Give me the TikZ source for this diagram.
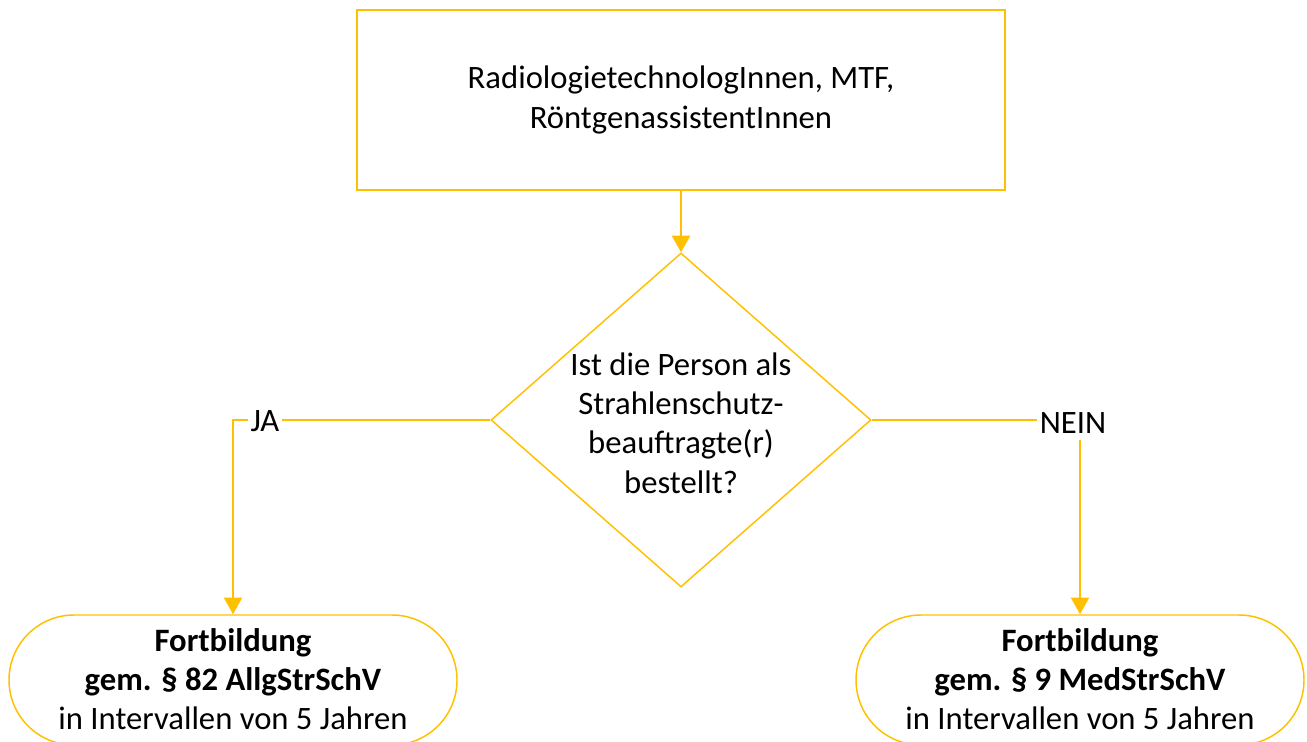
\documentclass[tikz,border=0pt]{standalone}
\usepackage{fontspec}
\setmainfont{Carlito}
\usetikzlibrary{shapes.geometric,shapes.misc,arrows.meta}
\definecolor{gold}{HTML}{FFC000}
\tikzset{
  boxline/.style={draw=gold, line width=1.1pt},
  topbox/.style={boxline, rectangle, minimum width=486pt, minimum height=135pt, inner sep=0pt},
  decbox/.style={boxline, diamond, minimum width=285pt, minimum height=250.5pt, inner sep=0pt},
  termbox/.style={boxline, rounded rectangle, minimum width=336pt, minimum height=97.5pt, inner sep=0pt},
  txt/.style={align=center, font=\fontsize{24.5}{29.5}\selectfont, text=black},
  conn/.style={draw=gold, line width=1.6pt},
  tip/.style={-{Triangle[width=13.5pt,length=12.5pt]}},
  lbl/.style={fill=white, font=\fontsize{24.5}{29.5}\selectfont, text=black, inner xsep=2pt, inner ysep=5pt}
}
\begin{document}
\begin{tikzpicture}[x=0.75pt,y=-0.75pt]
\useasboundingbox (0,0) rectangle (1307,742);
\node[topbox] (top) at (681,100) {};
\node[txt] (toptxt) at (top.center) {RadiologietechnologInnen, MTF,\\RöntgenassistentInnen};
\node[decbox] (dec) at (681,420) {};
\node[txt] (dectxt) at (681,423) {Ist die Person als\\Strahlenschutz-\\beauftragte(r)\\bestellt?};
\node[termbox] (left) at (233,680) {};
\node[txt] (lefttxt) at (233,679) {\textbf{Fortbildung}\\\textbf{gem. § 82 AllgStrSchV}\\in Intervallen von 5 Jahren};
\node[termbox] (right) at (1080,680) {};
\node[txt] (righttxt) at (1080,679) {\textbf{Fortbildung}\\\textbf{gem. § 9 MedStrSchV}\\in Intervallen von 5 Jahren};
\draw[conn, tip, line width=2.2pt] (top.south) -- (dec.north);
\draw[conn, tip] (dec.west) -| (left.north);
\draw[conn, tip] (dec.east) -| (right.north);
\node[lbl] (ja) at (265,421) {JA};
\node[lbl] (nein) at (1073,423) {NEIN};
\end{tikzpicture}
\end{document}
